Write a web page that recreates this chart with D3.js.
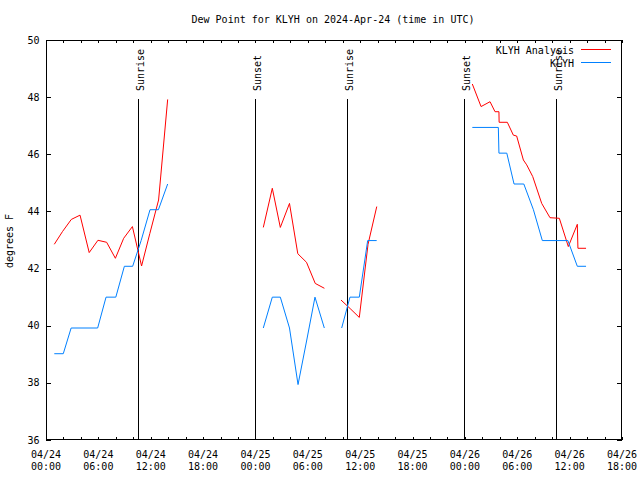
<!DOCTYPE html>
<html><head><meta charset="utf-8">
<script src="https://cdn.jsdelivr.net/npm/d3@7"></script>
<style>
body{margin:0;background:#fff;}
svg text{font-family:"DejaVu Sans Mono",monospace;font-size:10px;fill:#000;}
</style></head>
<body><svg id="c" width="640" height="480"></svg>
<script>
// Hours since 2024-04-24 00:00 UTC
const anaTimes = [0.95,1.9,2.9,3.9,4.95,5.95,6.95,7.95,8.9,9.9,10.95,11.9,12.9,13.94,null,
  24.9,25.93,26.85,27.9,28.85,29.85,30.85,31.9,null,
  33.8,34.85,35.9,36.9,37.9,null,
  48.85,49.85,50.88,51.45,51.9,51.92,52.86,53.55,53.93,54.7,55.08,55.77,56.8,57.75,58.82,59.85,60.88,60.95,61.88];
const anaValues = [42.85,43.3,43.72,43.87,42.56,42.99,42.92,42.36,43.06,43.47,42.09,43.23,44.4,47.92,null,
  43.44,44.81,43.44,44.28,42.52,42.22,41.48,41.31,null,
  40.9,40.6,40.29,42.85,44.17,null,
  48.46,47.67,47.84,47.49,47.49,47.12,47.12,46.67,46.64,45.8,45.63,45.22,44.28,43.78,43.76,42.77,43.55,42.71,42.71];
const obsTimes = [0.95,1.98,2.88,5.92,6.88,8.0,8.98,9.93,10.9,11.92,12.88,13.94,null,
  24.9,25.93,26.85,27.9,28.88,29.88,30.82,31.89,null,
  33.88,34.83,35.9,36.86,37.89,null,
  48.85,51.83,51.9,52.8,53.63,54.75,55.85,56.87,59.8,60.88,61.88];
const obsValues = [39.02,39.02,39.92,39.92,41.0,41.0,42.08,42.08,42.98,44.06,44.06,44.96,null,
  39.92,41.0,41.0,39.92,37.94,39.5,41.0,39.92,null,
  39.92,41.0,41.0,42.98,42.98,null,
  46.94,46.94,46.04,46.04,44.96,44.96,44.06,42.98,42.98,42.08,42.08];
const sunTimes = [10.55,23.98,34.53,47.93,58.47];
const sunLabels = ["Sunrise","Sunset","Sunrise","Sunset","Sunrise"];
const xTickHours = [0,6,12,18,24,30,36,42,48,54,60,66];
const xTickDates = ["04/24","04/24","04/24","04/24","04/25","04/25","04/25","04/25","04/26","04/26","04/26","04/26"];
const xTickTimes = ["00:00","06:00","12:00","18:00","00:00","06:00","12:00","18:00","00:00","06:00","12:00","18:00"];
const yTicks = [36,38,40,42,44,46,48,50];
const seriesNames = ["KLYH Analysis","KLYH"];
const seriesColors = ["#ff0000","#0080ff"];

const svg = d3.select("#c");
const L=46,R=622,T=40,B=440;
const x = d3.scaleLinear().domain([0,66]).range([L,R]);
const y = d3.scaleLinear().domain([36,50]).range([B,T]);

svg.append("text").attr("x",333).attr("y",23).attr("text-anchor","middle")
  .text("Dew Point for KLYH on 2024-Apr-24 (time in UTC)");

// axes (ticks inward)
const minorX = d3.range(0,67,2);
const gb = svg.append("g").attr("transform",`translate(0,${B})`)
  .call(d3.axisBottom(x).tickValues(minorX).tickSize(-3).tickFormat(""));
const gt = svg.append("g").attr("transform",`translate(0,${T})`)
  .call(d3.axisTop(x).tickValues(minorX).tickSize(-3).tickFormat(""));
const gl = svg.append("g").attr("transform",`translate(${L},0)`)
  .call(d3.axisLeft(y).tickValues(yTicks).tickSize(-5).tickFormat(""));
const gr = svg.append("g").attr("transform",`translate(${R},0)`)
  .call(d3.axisRight(y).tickValues(yTicks).tickSize(-5).tickFormat(""));
[gb,gt,gl,gr].forEach(g=>{g.select(".domain").remove();
  g.selectAll("line").attr("stroke","#000").attr("shape-rendering","crispEdges");});

svg.append("rect").attr("x",L+0.5).attr("y",T+0.5).attr("width",R-L-1).attr("height",B-T-1)
  .attr("fill","none").attr("stroke","#000").attr("shape-rendering","crispEdges");

// y tick labels
svg.append("g").selectAll("text").data(yTicks).join("text")
  .attr("x",39.5).attr("y",d=>y(d)+3.5).attr("text-anchor","end").text(d=>d);

// x tick labels
const xl = svg.append("g").selectAll("text").data(xTickHours).join("text")
  .attr("text-anchor","middle");
xl.append("tspan").attr("x",d=>x(d)).attr("y",457.5).text((d,i)=>xTickDates[i]);
xl.append("tspan").attr("x",d=>x(d)).attr("y",470).text((d,i)=>xTickTimes[i]);

svg.append("text").attr("transform","translate(13,241) rotate(-90)")
  .attr("text-anchor","middle").text("degrees F");

// sunrise/sunset lines
sunTimes.forEach((t,i)=>{
  const px = Math.round(x(t))+0.5;
  svg.append("line").attr("x1",px).attr("x2",px).attr("y1",99).attr("y2",B)
    .attr("stroke","#000").attr("shape-rendering","crispEdges");
  svg.append("text").attr("transform",`translate(${px+5.5},91) rotate(-90)`)
    .attr("text-anchor","start").text(sunLabels[i]);
});

// series
const line = d3.line().defined(d=>d[0]!==null && d[1]!==null).x(d=>x(d[0])).y(d=>y(d[1]));
const ana = anaTimes.map((t,i)=>[t,anaValues[i]]);
const obs = obsTimes.map((t,i)=>[t,obsValues[i]]);
svg.append("path").datum(ana).attr("d",line).attr("fill","none")
  .attr("stroke",seriesColors[0]).attr("stroke-width",1);
svg.append("path").datum(obs).attr("d",line).attr("fill","none")
  .attr("stroke",seriesColors[1]).attr("stroke-width",1);

// legend
[0,1].forEach(i=>{
  const ly = 49.5 + i*13;
  svg.append("text").attr("x",574).attr("y",ly+4).attr("text-anchor","end").text(seriesNames[i]);
  svg.append("line").attr("x1",581).attr("x2",611).attr("y1",ly).attr("y2",ly)
    .attr("stroke",seriesColors[i]).attr("shape-rendering","crispEdges");
});
</script></body></html>
